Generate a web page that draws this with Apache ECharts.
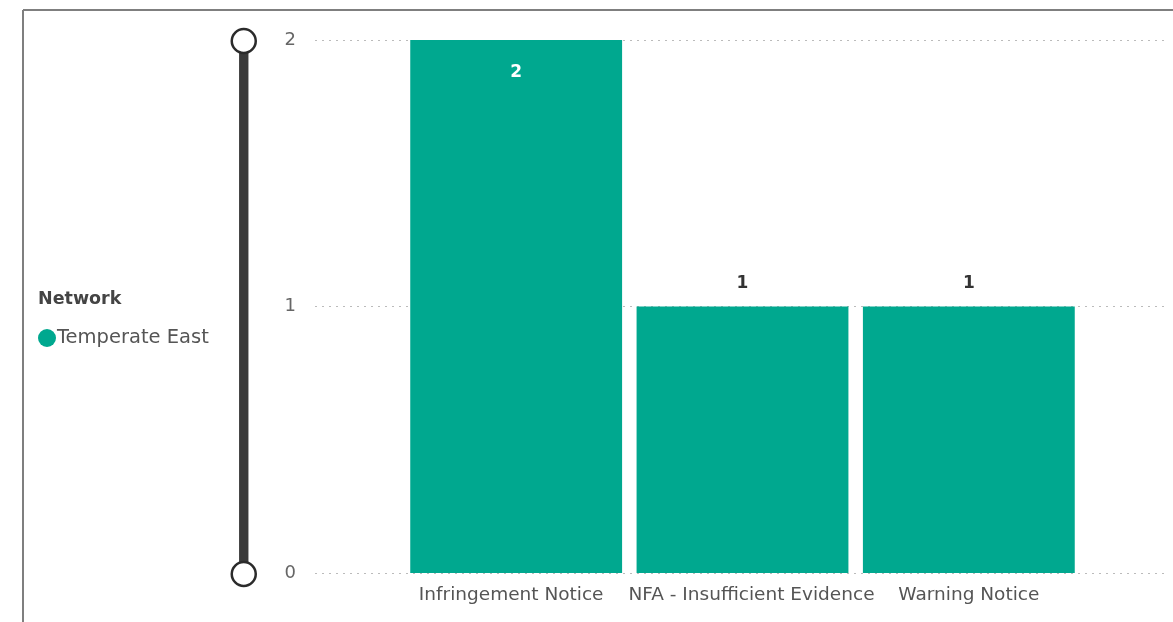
<!DOCTYPE html>
<html>
<head>
<meta charset="utf-8">
<script src="https://cdn.jsdelivr.net/npm/echarts@6/dist/echarts.min.js"></script>
<style>
html,body{margin:0;padding:0;background:#fff;}
#c{width:1173px;height:622px;}
</style>
</head>
<body>
<div id="c"></div>
<script>
const categories = ['Infringement Notice', 'NFA - Insufficient Evidence', 'Warning Notice'];
const values = [2, 1, 1];
const seriesName = 'Temperate East';
const legendTitle = 'Network';
const yTicks = [0, 1, 2];

const FONT = 'DejaVu Sans';
const BAR = '#00A88F';
const richKeys = ['a', 'b', 'c'];
const catFont = {fontSize: 18.5, color: '#555', fontFamily: FONT};

const chart = echarts.init(document.getElementById('c'), null, {renderer: 'canvas'});
chart.setOption({
  animation: false,
  backgroundColor: '#fff',
  textStyle: {fontFamily: FONT},
  title: {
    text: legendTitle, left: 33, top: 285,
    textStyle: {fontFamily: FONT, fontSize: 17.5, fontWeight: 'bold', color: '#444'}
  },
  legend: {
    data: [seriesName], left: 33, top: 323, icon: 'circle',
    itemWidth: 18, itemHeight: 18, itemGap: 4,
    textStyle: {fontFamily: FONT, fontSize: 19.5, color: '#555', padding: [0, 0, 0, -4]}
  },
  graphic: [
    {type: 'line', shape: {x1: 23, y1: 10, x2: 1173, y2: 10}, style: {stroke: '#7f7f7f', lineWidth: 2}},
    {type: 'line', shape: {x1: 23, y1: 10, x2: 23, y2: 622}, style: {stroke: '#7f7f7f', lineWidth: 2}}
  ],
  grid: [
    {left: 315, right: 8, top: 40, bottom: 49},
    {left: 403, right: 91, top: 40, bottom: 49}
  ],
  xAxis: [
    {type: 'value', gridIndex: 0, show: false},
    {
      type: 'category', gridIndex: 1, data: categories,
      axisLine: {show: false}, axisTick: {show: false},
      axisLabel: {
        interval: 0, margin: 13, color: '#555', fontSize: 18.5, fontFamily: FONT,
        formatter: (v, i) => '{' + richKeys[i] + '|' + v + '}',
        rich: {
          a: Object.assign({padding: [0, 10, 0, 0]}, catFont),
          b: Object.assign({padding: [0, 0, 0, 18]}, catFont),
          c: Object.assign({padding: [0, 0, 0, 0]}, catFont)
        }
      }
    }
  ],
  yAxis: [
    {
      type: 'value', gridIndex: 0, min: yTicks[0], max: yTicks[yTicks.length - 1], interval: 1,
      axisLine: {show: false}, axisTick: {show: false},
      axisLabel: {margin: 19, color: '#666', fontSize: 18, fontFamily: FONT},
      splitLine: {show: true, lineStyle: {type: [2, 5], color: '#bbb', width: 1}}
    },
    {
      type: 'value', gridIndex: 1, min: yTicks[0], max: yTicks[yTicks.length - 1], interval: 1,
      show: false, splitLine: {show: false}
    }
  ],
  dataZoom: [{
    type: 'slider', yAxisIndex: [0, 1], orient: 'vertical', filterMode: 'none',
    left: 238, width: 9, top: 40, bottom: 47,
    showDataShadow: false, showDetail: false, brushSelect: false, moveHandleSize: 0,
    backgroundColor: '#3a3a3a', fillerColor: '#3a3a3a', borderColor: 'transparent',
    handleIcon: 'circle', handleSize: 24,
    handleStyle: {color: '#fff', borderColor: '#2b2b2b', borderWidth: 2.5},
    emphasis: {handleStyle: {color: '#fff', borderColor: '#2b2b2b', borderWidth: 2.5}},
    dataBackground: {lineStyle: {opacity: 0}, areaStyle: {opacity: 0}}
  }],
  series: [{
    name: seriesName, type: 'bar', xAxisIndex: 1, yAxisIndex: 1,
    barCategoryGap: '6.4%',
    itemStyle: {color: BAR},
    data: values.map(v => ({
      value: v,
      label: v === Math.max(...values)
        ? {show: true, position: 'insideTop', distance: 24, color: '#fff', fontWeight: 'bold', fontSize: 17, fontFamily: FONT}
        : {show: true, position: 'top', distance: 14, color: '#333', fontWeight: 'bold', fontSize: 17, fontFamily: FONT}
    }))
  }]
});
</script>
</body>
</html>
